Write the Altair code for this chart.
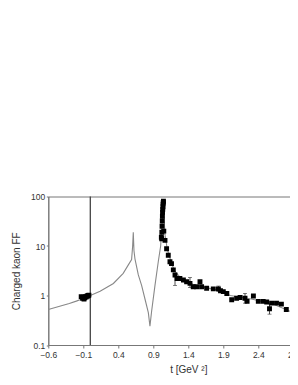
import altair as alt
import pandas as pd

# Model curve (t in GeV^2, |F_K|)
curve_t = [-0.6, -0.45, -0.3, -0.2, -0.1, 0.0, 0.14, 0.33, 0.47, 0.55, 0.59, 0.605, 0.614,
           0.624, 0.638, 0.686, 0.733, 0.781, 0.829, 0.852, 0.876, 0.924, 0.971, 1.005,
           1.029, 1.04, 1.05, 1.07, 1.1, 1.15, 1.2, 1.3, 1.5, 1.8, 2.0, 2.3, 2.6, 2.9, 3.1, 3.4]
curve_v = [0.52, 0.6, 0.69, 0.77, 0.87, 1.0, 1.22, 1.75, 2.8, 4.3, 5.3, 10.0, 19.0,
           8.0, 5.5, 2.6, 1.6, 0.85, 0.45, 0.24, 0.48, 1.6, 4.8, 10.0,
           35.0, 85.0, 40.0, 16.0, 8.5, 5.0, 3.2, 2.2, 1.6, 1.3, 1.0, 0.85, 0.68, 0.45, 0.36, 0.28]

# Measured points
data_t = [-0.13, -0.11, -0.1, -0.09, -0.08, -0.07, -0.06, -0.05, -0.04, -0.03, -0.02,
          1.015, 1.02, 1.022, 1.025, 1.028, 1.03, 1.032, 1.035, 1.038, 1.04, 1.042, 1.045, 1.05,
          1.067, 1.09, 1.114, 1.138, 1.16, 1.186, 1.21, 1.24, 1.28, 1.33, 1.376, 1.424, 1.47,
          1.52, 1.567, 1.59, 1.662, 1.757, 1.83, 1.86, 1.9, 1.95, 2.02, 2.09, 2.14, 2.21, 2.24,
          2.33, 2.4, 2.47, 2.52, 2.56, 2.59, 2.66, 2.73, 2.8, 2.92, 2.95]
data_v = [0.95, 0.88, 0.92, 0.85, 0.9, 0.95, 0.93, 0.97, 0.98, 1.0, 1.02,
          15.0, 14.0, 19.0, 25.0, 32.0, 40.0, 48.0, 55.0, 62.0, 70.0, 76.0, 80.0, 20.0,
          13.0, 8.8, 6.5, 4.8, 4.4, 3.3, 2.6, 2.2, 2.2, 2.06, 1.9, 1.76, 1.5,
          1.5, 1.9, 1.5, 1.4, 1.36, 1.36, 1.25, 1.2, 1.1, 0.82, 0.88, 0.91, 0.88, 0.76,
          0.98, 0.76, 0.76, 0.74, 0.54, 0.7, 0.7, 0.67, 0.52, 0.46, 0.33]

# Error bars
err_t = [1.21, 1.424, 1.83, 2.21, 2.56, 2.95]
err_lo = [1.6, 1.45, 1.2, 0.7, 0.42, 0.28]
err_hi = [2.8, 2.3, 1.55, 1.1, 0.68, 0.4]

curve = pd.DataFrame({"t": curve_t, "v": curve_v})
pts = pd.DataFrame({"t": data_t, "v": data_v})
errs = pd.DataFrame({"t": err_t, "lo": err_lo, "hi": err_hi})
vline = pd.DataFrame({"t": [0.0]})

xs = alt.Scale(domain=[-0.6, 3.4], nice=False, zero=False)
ys = alt.Scale(type="log", domain=[0.1, 100], nice=False)
tickvals = [-0.6, -0.1, 0.4, 0.9, 1.4, 1.9, 2.4, 2.9]

xax = alt.Axis(values=tickvals, format=".1f", grid=False, title="t [GeV ²]",
               labelFontSize=8.5, titleFontSize=10, titleFontWeight="normal",
               labelPadding=2, titlePadding=6, tickSize=3, labelFlush=False,
               labelOverlap=False)
yax = alt.Axis(values=[0.1, 1, 10, 100], format="~g", grid=False, title="Charged kaon FF",
               labelFontSize=8.5, titleFontSize=10, titleFontWeight="normal",
               labelPadding=1.5, titlePadding=9, tickSize=2, labelOverlap=False)

X = alt.X("t:Q", scale=xs, axis=xax)

line = alt.Chart(curve).mark_line(color="#888888", strokeWidth=1.1, clip=True).encode(
    x=X, y=alt.Y("v:Q", scale=ys, axis=yax),
)
rule = alt.Chart(vline).mark_rule(color="#444444", strokeWidth=1.3).encode(x=X)
ebar = alt.Chart(errs).mark_rule(color="#222222", strokeWidth=0.8).encode(
    x=X, y=alt.Y("lo:Q", scale=ys, axis=yax), y2="hi:Q")
caplo = alt.Chart(errs).mark_tick(color="#222222", thickness=0.8, size=4, orient="horizontal").encode(
    x=X, y=alt.Y("lo:Q", scale=ys, axis=yax))
caphi = alt.Chart(errs).mark_tick(color="#222222", thickness=0.8, size=4, orient="horizontal").encode(
    x=X, y=alt.Y("hi:Q", scale=ys, axis=yax))
points = alt.Chart(pts).mark_square(color="black", size=24, opacity=1, clip=True).encode(
    x=X, y=alt.Y("v:Q", scale=ys, axis=yax))

chart = alt.layer(line, rule, ebar, caplo, caphi, points).properties(
    width=280, height=148.5,
    autosize=alt.AutoSizeParams(type="none"),
    padding={"top": 188.5, "left": 40.3, "right": -38.3, "bottom": 32},
).configure_view(stroke="#777777", strokeWidth=1).configure_axis(
    domainColor="#777777", tickColor="#777777", labelColor="#333333", titleColor="#333333",
    labelFont="Liberation Sans", titleFont="Liberation Sans", labelOverlap=False
)

chart.save("out.html", embed_options={"renderer": "svg", "actions": False})
